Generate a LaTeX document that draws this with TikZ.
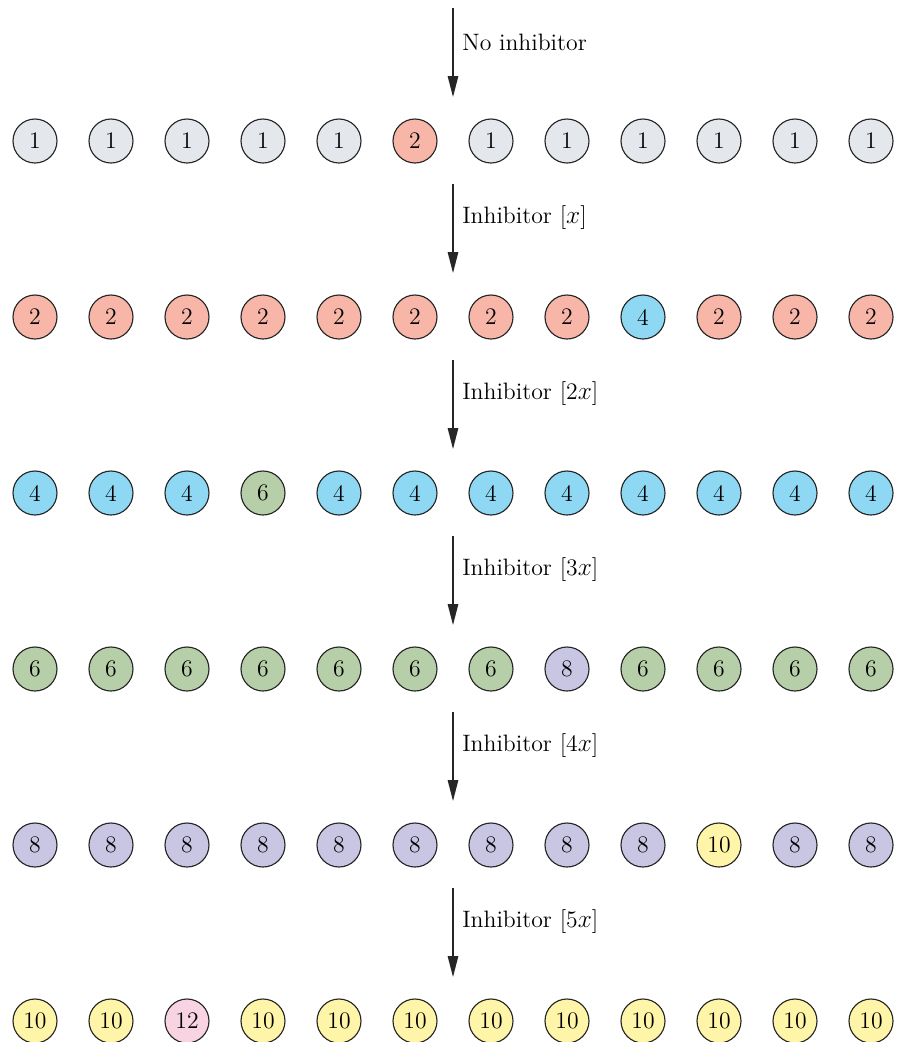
\documentclass[tikz,border=0pt]{standalone}
\usepackage{tikz}
\usetikzlibrary{arrows.meta,positioning}
\definecolor{grayfill}{RGB}{228,232,236}
\definecolor{salmonfill}{RGB}{247,182,168}
\definecolor{bluefill}{RGB}{142,216,244}
\definecolor{greenfill}{RGB}{182,207,168}
\definecolor{lavfill}{RGB}{201,198,228}
\definecolor{yellowfill}{RGB}{255,245,168}
\definecolor{pinkfill}{RGB}{248,212,226}
\tikzset{
  basecirc/.style={circle,draw=black!85,line width=0.65pt,minimum size=0.88cm,inner sep=0pt,font=\fontsize{13.5}{16}\selectfont},
  v1/.style={basecirc,fill=grayfill},
  v2/.style={basecirc,fill=salmonfill},
  v4/.style={basecirc,fill=bluefill},
  v6/.style={basecirc,fill=greenfill},
  v8/.style={basecirc,fill=lavfill},
  v10/.style={basecirc,fill=yellowfill},
  v12/.style={basecirc,fill=pinkfill},
  steparr/.style={-{Triangle[length=0.42cm,width=0.21cm]},line width=0.75pt,color=black!85},
  arrlabel/.style={anchor=west,font=\fontsize{13.5}{16}\selectfont,inner sep=0pt}
}

\begin{document}
\begin{tikzpicture}[x=0.02cm,y=-0.02cm]
  \useasboundingbox (0,0) rectangle (902,1042);

  %% ROWS OF CIRCLES, EACH WITH ITS ARROW ABOVE
  \foreach \r/\lab/\vals in {
      1/{No inhibitor}/{1,1,1,1,1,2,1,1,1,1,1,1},
      2/{Inhibitor [$x$]}/{2,2,2,2,2,2,2,2,4,2,2,2},
      3/{Inhibitor [2$x$]}/{4,4,4,6,4,4,4,4,4,4,4,4},
      4/{Inhibitor [3$x$]}/{6,6,6,6,6,6,6,8,6,6,6,6},
      5/{Inhibitor [4$x$]}/{8,8,8,8,8,8,8,8,8,10,8,8},
      6/{Inhibitor [5$x$]}/{10,10,12,10,10,10,10,10,10,10,10,10}}{
    \pgfmathsetmacro{\ry}{141+176*(\r-1)}
    \foreach \v [count=\i] in \vals
      \node[v\v] (n\r-\i) at ({35+76*(\i-1)},\ry) {\v};
    \coordinate (top\r) at (453,\ry-133);
    \coordinate (tip\r) at (453,\ry-44);
    \node[arrlabel] (lab\r) at (462,\ry-99) {\lab};
    \draw[steparr] (top\r) -- (tip\r);
  }
\end{tikzpicture}
\end{document}
